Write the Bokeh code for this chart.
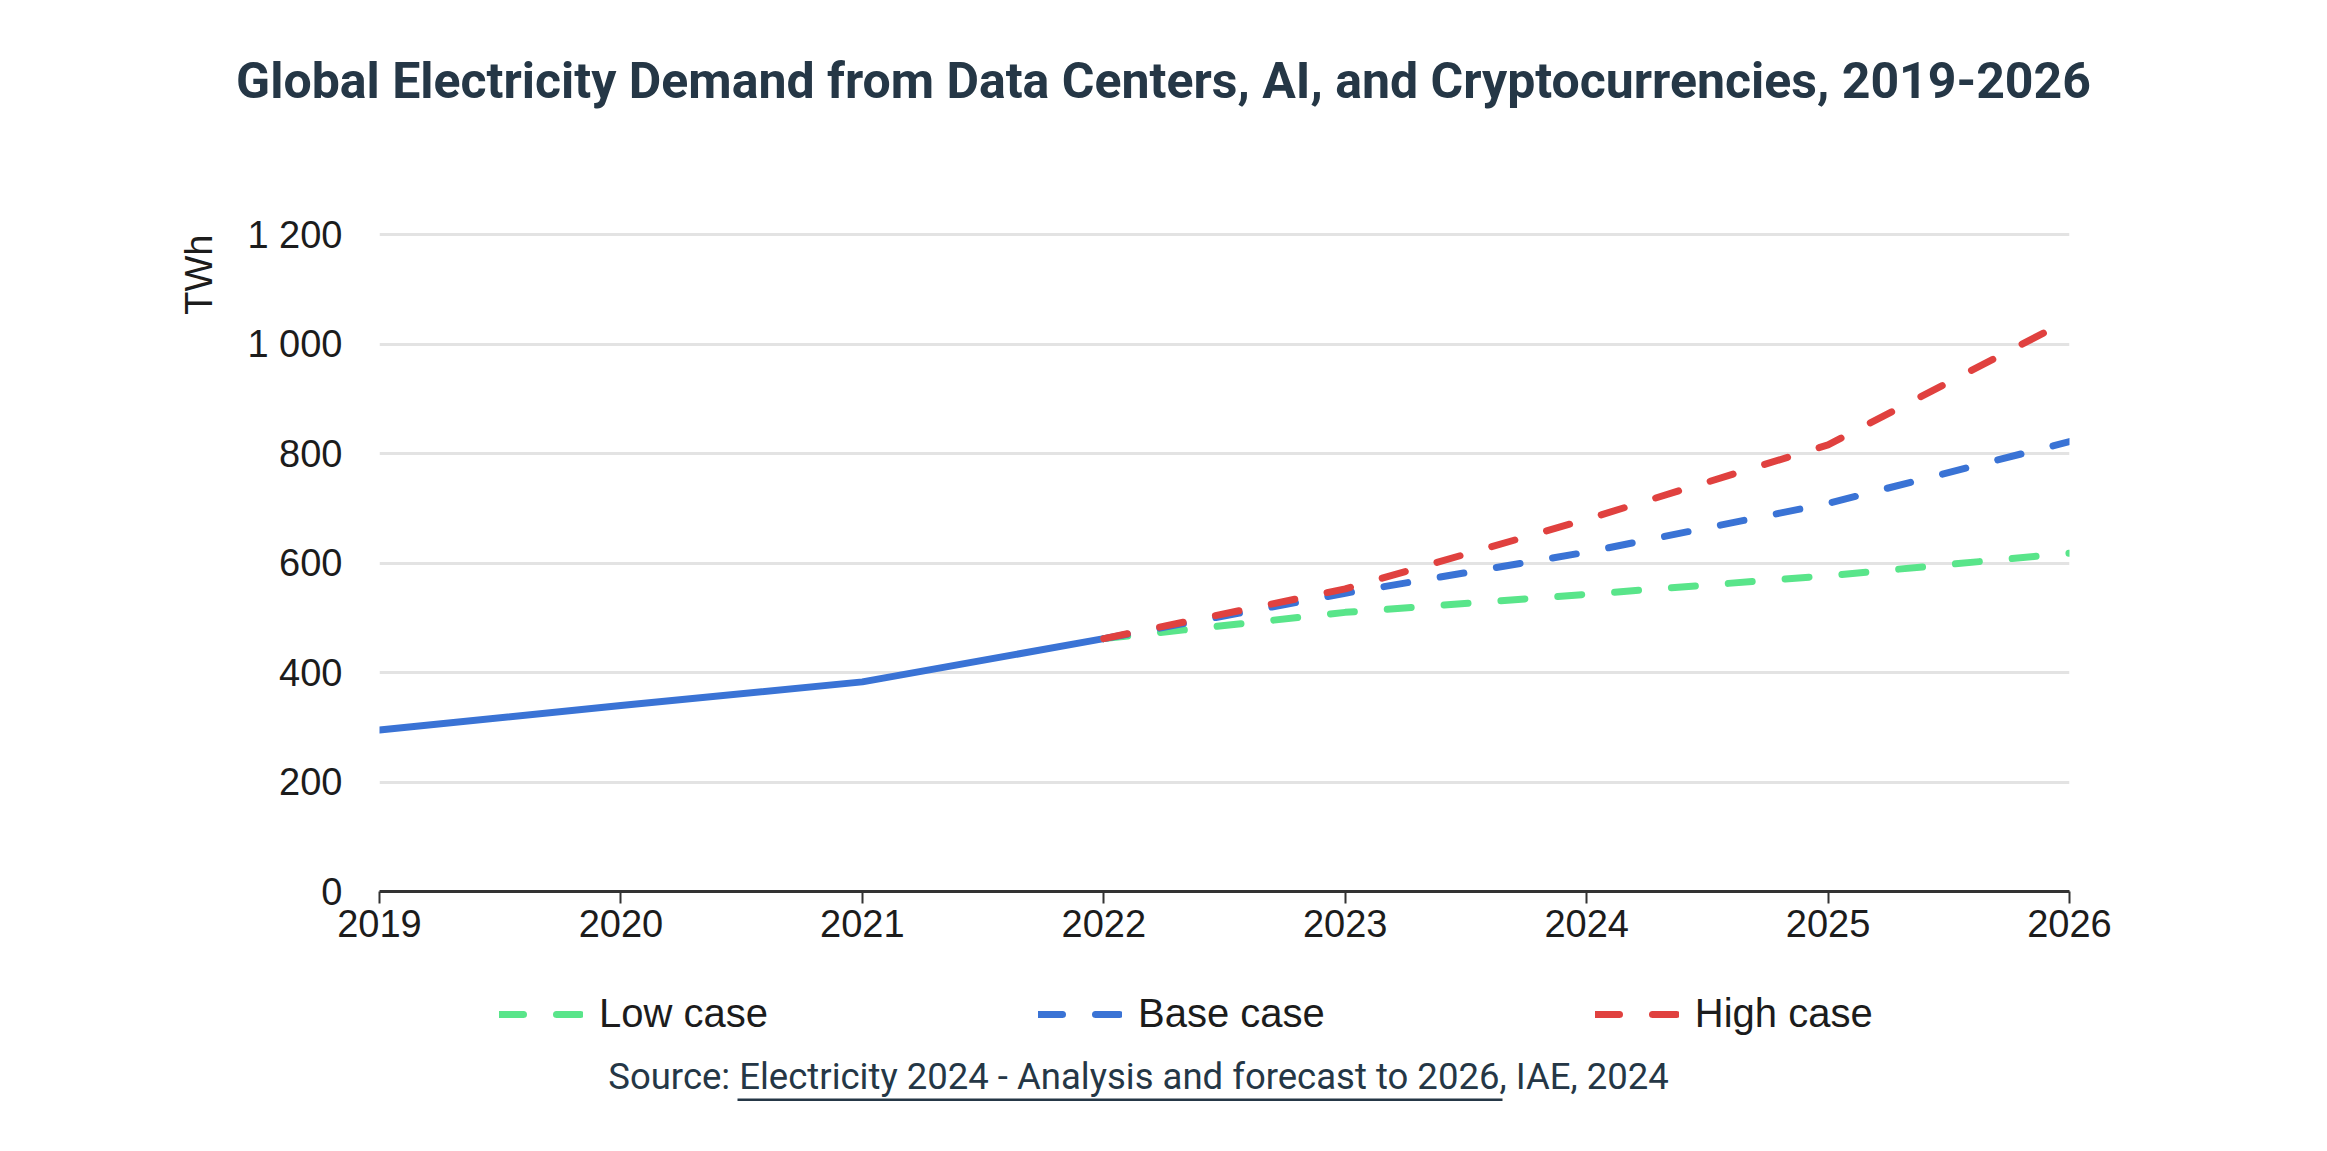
import math
from bokeh.plotting import figure
from bokeh.layouts import column
from bokeh.models import (FixedTicker, Legend, LegendItem, Title, Range1d, Label, BoxAnnotation)
from bokeh.embed import file_html
from bokeh.resources import INLINE

# ---- data ----
years = [2019, 2020, 2021, 2022, 2023, 2024, 2025, 2026]
hist_years = [2019, 2020, 2021, 2022]
hist_values = [295, 340, 383, 462]
proj_years = [2022, 2023, 2024, 2025, 2026]
low_case = [462, 510, 543, 577, 618]
base_case = [462, 545, 620, 709, 822]
high_case = [462, 553, 680, 816, 1045]
y_ticks = [0, 200, 400, 600, 800, 1000, 1200]
y_tick_labels = ["0", "200", "400", "600", "800", "1 000", "1 200"]
x_tick_labels = [str(y) for y in years]
series_names = ["Low case", "Base case", "High case"]

title_text = "Global Electricity Demand from Data Centers, AI, and Cryptocurrencies, 2019-2026"
source_text = "Source: Electricity 2024 - Analysis and forecast to 2026, IAE, 2024"

BLUE = "#3a73d5"
RED = "#e0413f"
GREEN = "#59e58a"
NAVY = "#253746"
INK = "#1c1c1c"
DASH = "24 33"
LW = 7

W = 2311
HT, HM, HB = 170, 790, 175  # title strip, main chart, legend/source strip


def strip(height):
    f = figure(width=W, height=height, output_backend="svg", toolbar_location=None,
               x_range=Range1d(0, W), y_range=Range1d(0, height),
               x_axis_location=None, y_axis_location=None,
               min_border_left=0, min_border_right=0, min_border_top=0, min_border_bottom=0,
               frame_align=False)
    f.grid.visible = False
    f.outline_line_color = None
    f.background_fill_color = "white"
    f.border_fill_color = "white"
    return f


# ---- title strip ----
pt = strip(HT)
pt.add_layout(Label(x=1163, y=HT - 80, text=title_text, text_align="center",
                    text_baseline="middle", text_font="Roboto", text_font_style="bold",
                    text_font_size="50px", text_color=NAVY))

# ---- main chart ----
p = figure(width=W, height=HM, output_backend="svg", toolbar_location=None,
           x_range=Range1d(2019, 2026), y_range=Range1d(0, 1204),
           min_border_left=379, min_border_right=242, min_border_top=62, min_border_bottom=69,
           frame_align=False)
p.outline_line_color = None
p.background_fill_color = "white"
p.border_fill_color = "white"

p.xaxis.ticker = FixedTicker(ticks=years)
p.xaxis.major_label_overrides = {y: s for y, s in zip(years, x_tick_labels)}
p.xaxis.axis_line_color = "#333333"
p.xaxis.axis_line_width = 3
p.xaxis.major_tick_line_color = "#333333"
p.xaxis.major_tick_line_width = 2
p.xaxis.major_tick_in = 0
p.xaxis.major_tick_out = 12
p.xaxis.minor_tick_line_color = None
p.xaxis.major_label_standoff = 6
p.xaxis.major_label_text_font = "Liberation Sans"
p.xaxis.major_label_text_font_size = "38px"
p.xaxis.major_label_text_color = INK

p.yaxis.ticker = FixedTicker(ticks=y_ticks)
p.yaxis.major_label_overrides = {t: s for t, s in zip(y_ticks, y_tick_labels)}
p.yaxis.axis_line_color = None
p.yaxis.major_tick_line_color = None
p.yaxis.minor_tick_line_color = None
p.yaxis.major_tick_out = 0
p.yaxis.major_tick_in = 0
p.yaxis.major_label_standoff = 37
p.yaxis.major_label_text_font = "Liberation Sans"
p.yaxis.major_label_text_font_size = "38px"
p.yaxis.major_label_text_color = INK

p.xgrid.grid_line_color = None
p.ygrid.ticker = FixedTicker(ticks=y_ticks[1:])
p.ygrid.grid_line_color = "#e3e3e3"
p.ygrid.grid_line_width = 3

p.add_layout(Title(text="TWh", align="right", offset=2, vertical_align="bottom", standoff=50,
                   text_font="Liberation Sans", text_font_style="normal", text_font_size="38px",
                   text_color=INK), "left")

p.line(hist_years, hist_values, line_color=BLUE, line_width=LW, line_join="round", line_cap="round")
p.line(proj_years, low_case, line_color=GREEN, line_width=LW, line_dash=DASH, line_cap="round")
p.line(proj_years, base_case, line_color=BLUE, line_width=LW, line_dash=DASH, line_cap="round")
p.line(proj_years, high_case, line_color=RED, line_width=LW, line_dash=DASH, line_cap="round")

# ---- legend / source strip ----
pb = strip(HB)
# legend keys: same series, styled like the chart lines (they fall outside this strip's view)
legend_renderers = [pb.line(proj_years, vals, line_color=c, line_width=LW, line_dash=DASH, line_cap="round")
                    for vals, c in ((low_case, GREEN), (base_case, BLUE), (high_case, RED))]
legend = Legend(items=[LegendItem(label=n, renderers=[r]) for n, r in zip(series_names, legend_renderers)],
                orientation="horizontal", location=(499, 99),
                glyph_width=84, glyph_height=40, label_standoff=16, spacing=270,
                padding=0, margin=0, border_line_color=None, background_fill_alpha=0,
                label_text_font="Liberation Sans", label_text_font_size="40px",
                label_text_color=INK, label_height=40)
pb.add_layout(legend, "center")

pb.add_layout(Label(x=1138, y=HB - 116, text=source_text, text_align="center",
                    text_baseline="middle", text_font="Roboto", text_font_style="normal",
                    text_font_size="36.5px", text_color=NAVY))
pb.add_layout(BoxAnnotation(left=737, right=1502, bottom=HB - 140.5, top=HB - 138,
                            fill_color=NAVY, fill_alpha=1, line_color=None))

layout = column(pt, p, pb, spacing=0)
open("out.html", "w").write(file_html(layout, INLINE))
